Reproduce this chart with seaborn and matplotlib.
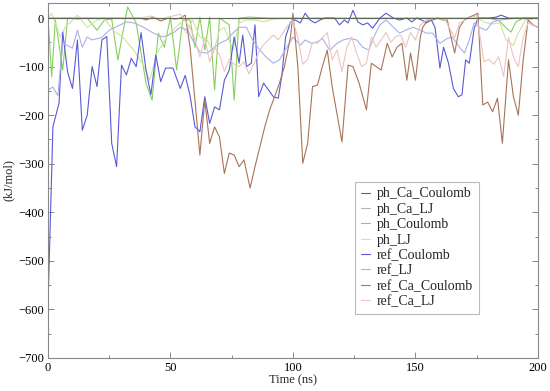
import pandas as pd
import matplotlib
matplotlib.use("Agg")
import matplotlib.pyplot as plt
import seaborn as sns
from matplotlib.ticker import MultipleLocator

sns.set_style("ticks")
plt.rcParams['font.family'] = ['Liberation Serif', 'DejaVu Serif']
plt.rcParams['font.size'] = 9

# -------------------------
# Data
# -------------------------
series_names = ["ph_Ca_Coulomb", "ph_Ca_LJ", "ph_Coulomb", "ph_LJ",
                "ref_Coulomb", "ref_LJ", "ref_Ca_Coulomb", "ref_Ca_LJ"]
series_colors = ["#5e6a52", "#b4b4b4", "#86d060", "#cfe3a2",
                 "#5a5ad6", "#aeaeea", "#a87458", "#ebc4c4"]

t_ph_ca_c = [0, 50, 100, 150, 200]
v_ph_ca_c = [0, 0, 0, 0, 0]

t_ph_ca_lj = [0, 50, 100, 150, 200]
v_ph_ca_lj = [0, 0, 0, 0, 0]

t_ph_c = [0, 1.5, 3, 6, 8, 12, 16, 20, 23, 26,
          28.5, 32.5, 36, 40, 42.5, 45, 47.5, 50, 52.5, 55,
          58, 60, 62, 64, 66, 68, 70, 74, 76, 78,
          82, 90, 100, 110, 120, 130, 140, 150, 160, 170,
          180, 184, 187, 189, 191, 194, 200]
v_ph_c = [0, -121, -4, -107, 0, -2, 0, -25, -4, -2,
          -86, 23, -10, -134, -169, -31, -60, 2, -107, -4,
          -4, -60, 2, -66, 2, -148, 0, -14, -169, 0,
          2, 0, 0, 0, 0, 0, 0, 0, 0, 0,
          0, -5, -20, -29, -8, 0, 0]

t_ph_lj = [0, 1.5, 5, 7, 10, 12, 16, 20, 23, 26.5,
           30.5, 35, 39, 41.5, 44.5, 48.5, 51, 54, 56.5, 59,
           62, 65, 67.5, 70, 72, 75.5, 78, 81, 85, 88,
           92, 100, 120, 140, 160, 175, 179, 181.5, 184.5, 187,
           190, 192, 195, 200]
v_ph_lj = [0, 10, -39, -19, -4, 6, -19, -4, 0, -25,
           -39, -66, -97, -128, -72, -39, -25, -10, -31, -4,
           -39, -45, -72, -25, -20, -66, -10, -4, -4, -8,
           -2, 0, 0, 0, 0, 0, -10, -12, -10, -45,
           -56, -31, -3, 0]

t_ref_c = [0, 2, 4.5, 6, 8, 10, 12, 14, 16, 18,
           20, 22, 24, 26, 28, 30, 32, 34, 36, 38,
           40, 42, 44, 46, 48, 51, 54, 56, 58, 60,
           62, 64, 66, 68, 70, 72, 74, 76, 78, 79.5,
           81, 83, 84.5, 86, 88, 90, 92, 94, 95.5, 97,
           99, 101, 103, 105, 107, 109, 111, 113, 115, 117,
           119, 121, 122.5, 124.5, 126.5, 128.5, 130.5, 132.5, 135.5, 138,
           141, 143.5, 146.5, 148.5, 150.5, 152.5, 154.5, 156.5, 158, 160,
           161.5, 163.5, 165.5, 167.5, 169, 170.5, 172, 174, 175.5, 177.5,
           180, 183, 185, 188, 190.5, 192.5, 195.5, 198, 200]
v_ref_c = [-590, -224, -175, -29, -111, -145, -45, -231, -200, -100,
           -141, -45, -38, -258, -306, -97, -117, -83, -100, -30,
           -107, -158, -76, -131, -103, -103, -145, -118, -160, -224,
           -234, -162, -217, -183, -189, -128, -107, -39, -93, -35,
           -100, -93, -14, -162, -134, -148, -162, -165, -117, -39,
           -8, -4, -10, 10, -4, -10, -4, 0, 0, 0,
           -14, -4, -10, 16, -8, -14, -10, -21, 0, 10,
           0, -4, 0, -8, 0, -4, -10, -4, -19, -103,
           -60, -93, -145, -162, -158, -86, -93, -21, 0, 0,
           0, 2, 6, 0, 0, 0, 0, 0, 0]

t_ref_lj = [0, 2, 4, 6, 10, 12, 14, 16, 18, 22,
            25, 32, 35, 39, 43, 47, 51, 54, 57, 59,
            62, 65, 68, 70, 73, 75.5, 78, 81, 83.5, 86.5,
            89, 92, 94.5, 97.5, 100, 103, 105, 107.5, 110, 112,
            115, 118, 120.5, 123, 126, 128.5, 131, 133, 135.5, 138,
            141, 143.5, 146, 149, 152, 154.5, 157, 160, 163, 165,
            168, 170, 172, 174, 176, 179, 181.5, 184.5, 188, 192,
            196, 200]
v_ref_lj = [-148, -142, -160, -52, -62, -25, -60, -39, -45, -40,
            -25, -8, -10, -19, -31, -39, -31, -19, -25, -45,
            -70, -72, -60, -52, -45, -31, -19, -19, -45, -66,
            -80, -93, -86, -60, -39, -56, -45, -52, -49, -42,
            -66, -52, -45, -42, -45, -60, -66, -39, -14, -4,
            -19, -31, -25, -19, -25, -31, -31, -52, -42, -39,
            -60, -72, -45, -10, -19, -25, -8, -4, -2, 0,
            -2, 0]

t_ref_ca_c = [0, 38, 40, 43, 46, 49, 52, 54, 56, 58,
              60, 62, 64, 66, 68, 70, 72, 74, 76, 78,
              80, 82.5, 84.5, 86.5, 88.5, 90.5, 92.5, 94.5, 96.5, 99,
              100, 102, 104, 106, 108, 110, 112, 114, 116, 120,
              122.5, 124.5, 127, 130, 132, 134, 136, 138.5, 140.5, 142.5,
              144.5, 146.5, 148, 150, 152, 153, 155, 157, 159, 161,
              163, 166, 168, 170, 172, 174, 175.5, 177.5, 179.5, 181.5,
              183.5, 185.5, 188, 190, 192, 194, 196, 198, 200]
v_ref_ca_c = [0, 0, -4, 2, -6, 0, -2, 0, 6, -60,
              -170, -282, -169, -258, -224, -245, -320, -278, -282, -306,
              -292, -350, -306, -265, -224, -189, -162, -134, -100, -39,
              10, -100, -299, -258, -141, -138, -100, -66, -141, -255,
              -97, -100, -134, -189, -93, -100, -107, -52, -80, -60,
              -52, -128, -72, -128, -39, -19, -4, -4, 0, -4,
              -4, -72, -19, -4, 2, 6, 10, -179, -173, -193,
              -165, -258, -86, -162, -200, -86, -4, -14, -19]

t_ref_ca_lj = [0, 38, 42, 46, 50, 54, 58, 60, 62, 64,
               66, 68, 70, 72, 74, 76, 78, 80, 82, 84,
               86, 88, 90, 92, 94, 96, 98, 100, 102, 104,
               106, 108, 110, 112, 114, 116, 118, 120, 122, 124,
               126, 128, 130, 132, 134, 136, 138, 140, 142, 144,
               146, 148, 150, 152, 154, 158, 162, 166, 168, 172,
               175, 178, 180, 182, 184, 186, 188, 190, 192, 194,
               196, 200]
v_ref_ca_lj = [0, 0, 4, -2, 3, 8, -20, -45, -80, -40,
               -90, -60, -75, -110, -85, -95, -100, -90, -115, -95,
               -70, -55, -45, -35, -45, -30, -15, -5, -40, -95,
               -85, -50, -52, -40, -30, -86, -66, -110, -60, -39,
               -72, -100, -93, -40, -60, -45, -30, -50, -38, -35,
               -60, -30, -45, -15, -5, 0, -3, -40, -10, 0,
               5, -90, -85, -95, -80, -120, -40, -80, -100, -40,
               -10, -20]

all_times = [t_ph_ca_c, t_ph_ca_lj, t_ph_c, t_ph_lj,
             t_ref_c, t_ref_lj, t_ref_ca_c, t_ref_ca_lj]
all_values = [v_ph_ca_c, v_ph_ca_lj, v_ph_c, v_ph_lj,
              v_ref_c, v_ref_lj, v_ref_ca_c, v_ref_ca_lj]


def build_frame():
    """Stack every series into one long table for seaborn."""
    parts = []
    for name, t, v in zip(series_names, all_times, all_values):
        parts.append(pd.DataFrame({"time": t, "energy": v, "series": name}))
    return pd.concat(parts, ignore_index=True)


def main():
    df = build_frame()

    fig = plt.figure(figsize=(5.5, 3.91), dpi=100)
    ax = fig.add_axes([0.0873, 0.0844, 0.8907, 0.9079])

    sns.lineplot(data=df, x="time", y="energy", hue="series",
                 hue_order=series_names, palette=series_colors,
                 estimator=None, sort=False, linewidth=0.8, ax=ax)

    # keep the flat zero trace visible on top, like the original
    ax.lines[0].set_zorder(2.6)

    ax.set_xlim(0, 200)
    ax.set_ylim(-700, 31)
    ax.xaxis.set_major_locator(MultipleLocator(50))
    ax.xaxis.set_minor_locator(MultipleLocator(25))
    ax.yaxis.set_major_locator(MultipleLocator(100))
    ax.yaxis.set_minor_locator(MultipleLocator(50))
    ax.tick_params(which="both", direction="in", top=True, right=True,
                   colors="#888888", labelcolor="black", labelsize=9, pad=3)
    ax.tick_params(which="major", length=4.5, width=0.7)
    ax.tick_params(which="minor", length=2.5, width=0.7)
    for sp in ax.spines.values():
        sp.set_color("#888888")
        sp.set_linewidth(0.8)

    ax.set_xlabel("Time (ns)", fontsize=9, labelpad=0)
    ax.set_ylabel("(kJ/mol)", fontsize=9, labelpad=2)

    handles, labels = ax.get_legend_handles_labels()
    leg = ax.legend(handles, labels, loc="upper left",
                    bbox_to_anchor=(0.627, 0.496), borderaxespad=0,
                    fontsize=10, frameon=True, fancybox=False,
                    handlelength=0.7, handletextpad=0.45,
                    labelspacing=0.17, borderpad=0.4)
    leg.get_frame().set_edgecolor("#aaaaaa")
    leg.get_frame().set_linewidth(0.8)

    fig.savefig("out.png", dpi=100)
    plt.close(fig)


if __name__ == "__main__":
    main()
